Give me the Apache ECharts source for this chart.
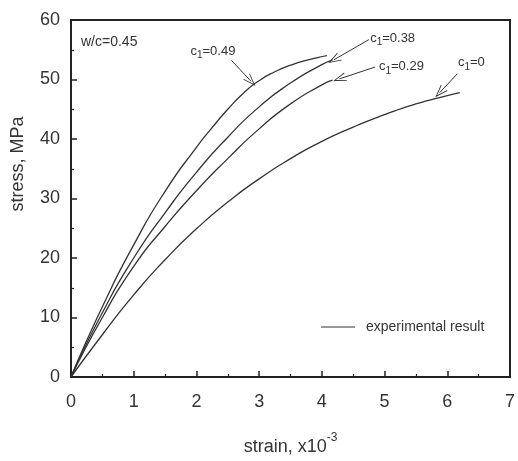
<!DOCTYPE html>
<html>
<head>
<meta charset="utf-8">
<script src="https://cdn.jsdelivr.net/npm/echarts@6/dist/echarts.min.js"></script>
<style>html,body{margin:0;padding:0;background:#fff}#c{width:518px;height:461px}</style>
</head>
<body>
<div id="c"></div>
<script>
// strain (x10^-3) and stress (MPa)
const strain_c049 = [0, 0.5, 1, 1.5, 2, 2.25, 2.5, 2.75, 3, 3.25, 3.5, 3.75, 4.08];
const stress_c049 = [0, 11.8, 22.2, 31.2, 38.6, 41.9, 45.0, 47.7, 49.8, 51.3, 52.4, 53.2, 54.0];
const strain_c038 = [0, 0.5, 1, 1.5, 2, 2.5, 3, 3.5, 4, 4.17];
const stress_c038 = [0, 10.8, 20.0, 27.6, 34.4, 40.3, 45.4, 49.4, 52.5, 53.3];
const strain_c029 = [0, 0.5, 1, 1.5, 2, 2.5, 3, 3.5, 4, 4.17];
const stress_c029 = [0, 10.0, 18.6, 25.3, 31.3, 36.7, 41.7, 45.9, 49.1, 49.9];
const strain_c0 = [0, 0.5, 1, 1.5, 2, 2.5, 3, 3.5, 4, 4.5, 5, 5.5, 6, 6.2];
const stress_c0 = [0, 7.1, 13.8, 19.7, 24.9, 29.4, 33.3, 36.7, 39.6, 42.0, 44.1, 45.9, 47.3, 47.8];

const xTicks = [0, 1, 2, 3, 4, 5, 6, 7];
const yTicks = [0, 10, 20, 30, 40, 50, 60];

// annotations: label value, label anchor [strain, stress], arrow start, arrow end
const annLabels = ['0.49', '0.38', '0.29', '0'];
const annLabelAt = [[1.905, 54.5], [4.77, 56.7], [4.91, 51.9], [6.17, 52.6]];
const annArrowFrom = [[2.56, 53.2], [4.75, 56.7], [4.85, 52.1], [6.16, 50.96]];
const annArrowTo = [[2.87, 49.7], [4.19, 53.3], [4.28, 50.1], [5.88, 47.8]];

const zip = (xs, ys) => xs.map((x, i) => [x, ys[i]]);
const curveColor = '#333';
const arrowPath = 'path://M5,0L10,12L9,12L5,2.5L1,12L0,12Z';

function curve(xs, ys, extra) {
  return Object.assign({
    name: 'experimental result',
    type: 'line',
    data: zip(xs, ys),
    smooth: 0.6,
    showSymbol: false,
    symbol: 'none',
    lineStyle: { color: curveColor, width: 1.3 },
    itemStyle: { color: curveColor },
    z: 3
  }, extra || {});
}

const chart = echarts.init(document.getElementById('c'), null, { renderer: 'canvas' });
const font = 'Arial, "Liberation Sans", sans-serif';

chart.setOption({
  animation: false,
  backgroundColor: '#fff',
  textStyle: { fontFamily: font },
  grid: { left: 71, right: 4, top: 20, bottom: 76, show: true, borderColor: '#222', borderWidth: 2, backgroundColor: 'transparent' },
  legend: {
    data: ['experimental result'],
    left: 316, top: 315,
    icon: 'path://M0,0H34V1H0Z',
    itemWidth: 34, itemHeight: 1,
    textStyle: { fontSize: 14, color: '#333', fontFamily: font, padding: [0, 0, 0, 6] },
    selectedMode: false
  },
  xAxis: {
    type: 'value', min: xTicks[0], max: xTicks[xTicks.length - 1], interval: 1,
    name: '{n|strain, x10}{s|-3}',
    nameLocation: 'middle', nameGap: 55,
    nameTextStyle: {
      rich: {
        n: { fontSize: 18, color: '#333', fontFamily: font, verticalAlign: 'bottom', padding: [6, 0, 0, 0] },
        s: { fontSize: 12, color: '#333', fontFamily: font, verticalAlign: 'top' }
      }
    },
    axisLine: { show: true, onZero: false, lineStyle: { color: '#222', width: 2 } },
    axisTick: { show: true, inside: true, length: 6, lineStyle: { color: '#222', width: 1.5 } },
    minorTick: { show: true, splitNumber: 2, length: 3, lineStyle: { color: '#222', width: 1.2 } },
    axisLabel: { fontSize: 18, color: '#333', margin: 16, fontFamily: font },
    splitLine: { show: false }
  },
  yAxis: {
    type: 'value', min: yTicks[0], max: yTicks[yTicks.length - 1], interval: 10,
    axisLine: { show: true, onZero: false, lineStyle: { color: '#222', width: 2 } },
    axisTick: { show: true, inside: true, length: 6, lineStyle: { color: '#222', width: 1.5 } },
    minorTick: { show: true, splitNumber: 2, length: 3, lineStyle: { color: '#222', width: 1.2 } },
    axisLabel: { fontSize: 18, color: '#333', margin: 11, fontFamily: font },
    splitLine: { show: false }
  },
  graphic: [
    { type: 'text', left: 81, top: 35, style: { text: 'w/c=0.45', fontSize: 14, fill: '#333', fontFamily: font } },
    { type: 'text', x: 18, y: 164, rotation: Math.PI / 2,
      style: { text: 'stress, MPa', fontSize: 18, fill: '#333', fontFamily: font, align: 'center', verticalAlign: 'middle' } }
  ],
  series: [
    curve(strain_c049, stress_c049, {
      markLine: {
        silent: true,
        symbol: ['none', arrowPath],
        symbolSize: [9, 13],
        label: { show: false },
        lineStyle: { color: '#333', width: 1, type: 'solid' },
        data: annArrowFrom.map((p, i) => [{ coord: p }, { coord: annArrowTo[i] }])
      },
      markPoint: {
        silent: true,
        symbol: 'circle', symbolSize: 0,
        label: {
          show: true, position: 'right', distance: 0,
          formatter: p => '{a|c}{b|1}{a|=' + p.name + '}',
          rich: {
            a: { fontSize: 13, color: '#333', fontFamily: font, verticalAlign: 'top' },
            b: { fontSize: 10, color: '#333', fontFamily: font, padding: [6, 0, 0, 0] }
          }
        },
        data: annLabels.map((t, i) => ({ name: t, coord: annLabelAt[i] }))
      }
    }),
    curve(strain_c038, stress_c038),
    curve(strain_c029, stress_c029),
    curve(strain_c0, stress_c0)
  ]
});
</script>
</body>
</html>
